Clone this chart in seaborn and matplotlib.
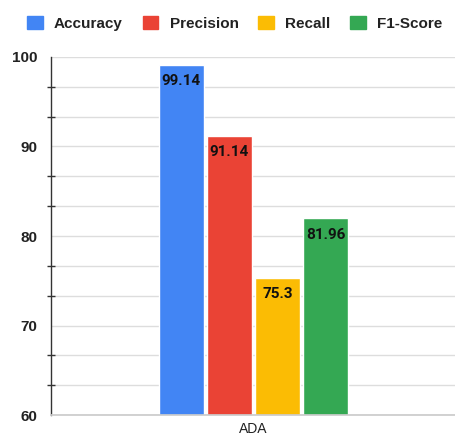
import matplotlib
matplotlib.use("Agg")
import matplotlib.pyplot as plt
from matplotlib.patches import Patch
from matplotlib.ticker import MultipleLocator
import seaborn as sns
import pandas as pd

models = ["ADA"]
metrics = ["Accuracy", "Precision", "Recall", "F1-Score"]
values = [99.14, 91.14, 75.3, 81.96]
colors = ["#4285F4", "#EA4335", "#FBBC04", "#34A853"]

df = pd.DataFrame({
    "model": models * len(metrics),
    "metric": metrics,
    "value": values,
})

sns.set_theme(style="white")
plt.rcParams["font.family"] = ["Liberation Sans", "DejaVu Sans"]

fig = plt.figure(figsize=(4.56, 4.37), dpi=100)
ax = fig.add_axes([0.112, 0.0503, 0.888, 0.8193])

sns.barplot(data=df, x="model", y="value", hue="metric", hue_order=metrics,
            palette=colors, width=0.475, gap=0.06, ax=ax, legend=False,
            saturation=1.0)

ax.set_ylim(60, 100)
ax.set_xlim(-0.5, 0.5)
ax.yaxis.set_major_locator(MultipleLocator(10))
ax.yaxis.set_minor_locator(MultipleLocator(10 / 3))
ax.grid(axis="y", which="both", color="#dddddd", linewidth=1.0)
ax.set_axisbelow(True)

for s in ["top", "right"]:
    ax.spines[s].set_visible(False)
ax.spines["bottom"].set_color("#cccccc")
ax.spines["left"].set_color("#333333")
ax.spines["left"].set_linewidth(1.0)

ax.tick_params(axis="y", which="major", direction="inout", length=11.5,
               width=1.0, color="#333333", labelsize=11, pad=4)
ax.tick_params(axis="y", which="minor", direction="inout", length=5.8,
               width=1.0, color="#333333", left=True)
ax.tick_params(axis="x", length=0, labelsize=10, labelcolor="#222222", pad=5)
for lab in ax.get_yticklabels():
    lab.set_fontweight("bold")
    lab.set_color("#222222")
ax.set_xlabel("")
ax.set_ylabel("")

for container, v in zip(ax.containers, values):
    for bar in container:
        ax.text(bar.get_x() + bar.get_width() / 2, v - 1.8, f"{v:g}",
                ha="center", va="center", fontsize=11, fontweight="bold",
                color="#111111", family=["Roboto", "DejaVu Sans"])

handles = [Patch(facecolor=c, edgecolor=c, label=m) for m, c in zip(metrics, colors)]
leg = fig.legend(handles=handles, loc="center", bbox_to_anchor=(0.515, 0.947),
                 ncol=4, frameon=False, handlelength=1.0, handleheight=1.0,
                 handletextpad=0.75, columnspacing=1.3,
                 prop={"weight": "bold", "size": 11})
for t in leg.get_texts():
    t.set_color("#222222")

fig.savefig("out.png", dpi=100)
